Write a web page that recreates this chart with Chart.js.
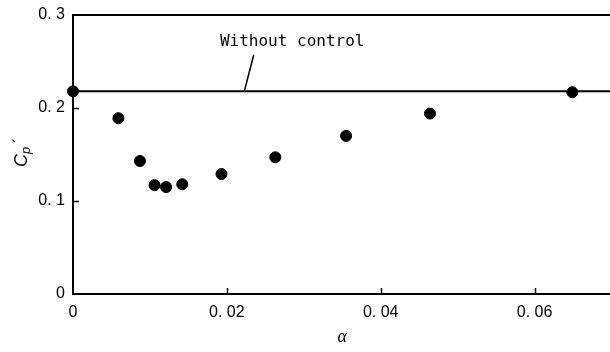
<!DOCTYPE html>
<html>
<head>
<meta charset="utf-8">
<script src="https://cdn.jsdelivr.net/npm/chart.js@4"></script>
<style>
	html, body { margin: 0; padding: 0; background: #fff; overflow: hidden; width: 610px; height: 352px; }
	canvas { display: block; }
</style>
</head>
<body>
<canvas id="chart" width="618" height="352"></canvas>
<script>
// measured data (alpha, Cp')
const alphaValues = [0, 0.0059, 0.0087, 0.0106, 0.0121, 0.0142, 0.0193, 0.0263, 0.0355, 0.0464, 0.0649];
const cpValues = [0.218, 0.189, 0.143, 0.117, 0.115, 0.118, 0.129, 0.147, 0.170, 0.194, 0.217];
// reference line without control
const refX = [0, 0.07];
const refY = [0.218, 0.218];
const xTicks = [0, 0.02, 0.04, 0.06];
const yTicks = [0, 0.1, 0.2, 0.3];
const refLabel = "Without control";
// label anchor and leader in data units
const labelPos = [0.0191, 0.2716];
const leader = [[0.0235, 0.2573], [0.0223, 0.2189]];

function fmt(v, d) {
	if (Math.abs(v) < 1e-9) return "0";
	return v.toFixed(d).replace(".", ". ");
}

const framePlugin = {
	id: "frame",
	afterDraw(chart) {
		const ctx = chart.ctx;
		const area = chart.chartArea;
		const xs = chart.scales.x;
		const ys = chart.scales.y;
		ctx.save();
		ctx.strokeStyle = "#000";
		// top border
		ctx.lineWidth = 2;
		ctx.beginPath();
		ctx.moveTo(area.left - 1, area.top);
		ctx.lineTo(area.right + 2, area.top);
		ctx.stroke();
		// inward ticks
		ctx.lineWidth = 1.5;
		yTicks.forEach(v => {
			if (v === 0 || v === 0.3) return;
			const py = Math.round(ys.getPixelForValue(v)) + 0.5;
			ctx.beginPath();
			ctx.moveTo(area.left, py);
			ctx.lineTo(area.left + 6, py);
			ctx.stroke();
		});
		xTicks.forEach(v => {
			if (v === 0) return;
			const px = Math.round(xs.getPixelForValue(v)) + 0.5;
			ctx.beginPath();
			ctx.moveTo(px, area.bottom);
			ctx.lineTo(px, area.bottom - 6);
			ctx.stroke();
		});
		// annotation
		ctx.lineWidth = 1.5;
		ctx.beginPath();
		ctx.moveTo(xs.getPixelForValue(leader[0][0]), ys.getPixelForValue(leader[0][1]));
		ctx.lineTo(xs.getPixelForValue(leader[1][0]), ys.getPixelForValue(leader[1][1]));
		ctx.stroke();
		ctx.fillStyle = "#000";
		ctx.font = "16px 'DejaVu Sans Mono'";
		ctx.textAlign = "left";
		ctx.textBaseline = "middle";
		ctx.fillText(refLabel, xs.getPixelForValue(labelPos[0]), ys.getPixelForValue(labelPos[1]));
		// y axis title Cp'
		ctx.translate(22, 150);
		ctx.rotate(-Math.PI / 2);
		ctx.textAlign = "left";
		ctx.textBaseline = "alphabetic";
		ctx.font = "italic 18px 'Liberation Sans'";
		ctx.fillText("C", -17, 5);
		ctx.font = "italic 13px 'Liberation Sans'";
		ctx.fillText("p", -4, 8);
		ctx.font = "16px 'Liberation Sans'";
		ctx.fillText("\u00b4", 7, 3);
		ctx.restore();
	}
};

const ctx = document.getElementById("chart").getContext("2d");
new Chart(ctx, {
	type: "scatter",
	data: {
		datasets: [
			{
				label: "Without control",
				type: "line",
				data: refX.map((x, i) => ({ x: x, y: refY[i] })),
				borderColor: "#000",
				borderWidth: 2,
				pointRadius: 0,
				fill: false,
			},
			{
				label: "Cp'",
				data: alphaValues.map((x, i) => ({ x: x, y: cpValues[i] })),
				backgroundColor: "#000",
				borderColor: "#000",
				pointRadius: 5.5,
				pointHoverRadius: 5.5,
				clip: false,
			},
		],
	},
	options: {
		responsive: false,
		animation: false,
		layout: { padding: { top: 15, right: 1, left: 0, bottom: 0 } },
		plugins: { legend: { display: false }, tooltip: { enabled: false } },
		scales: {
			x: {
				type: "linear",
				min: 0,
				max: 0.07,
				afterBuildTicks: s => { s.ticks = xTicks.map(v => ({ value: v })); },
				afterFit: s => { s.height = 58; s.paddingLeft = 0; s.paddingRight = 0; },
				grid: { display: false, drawTicks: false },
				border: { display: true, color: "#000", width: 2 },
				ticks: {
					padding: 9,
					color: "#000",
					font: { family: "Liberation Sans", size: 16 },
					maxRotation: 0,
					callback: v => fmt(v, 2),
				},
				title: {
					display: true,
					text: "α",
					color: "#000",
					font: { family: "Liberation Serif", size: 18, style: "italic" },
					padding: { top: 0, bottom: 4 },
				},
			},
			y: {
				type: "linear",
				min: 0,
				max: 0.3,
				afterBuildTicks: s => { s.ticks = yTicks.map(v => ({ value: v })); },
				afterFit: s => { s.width = 73; s.paddingTop = 0; s.paddingBottom = 0; },
				grid: { display: false, drawTicks: false },
				border: { display: true, color: "#000", width: 2 },
				ticks: {
					padding: 8,
					color: "#000",
					font: { family: "Liberation Sans", size: 16 },
					callback: v => fmt(v, 1),
				},
			},
		},
	},
	plugins: [framePlugin],
});
</script>
</body>
</html>
